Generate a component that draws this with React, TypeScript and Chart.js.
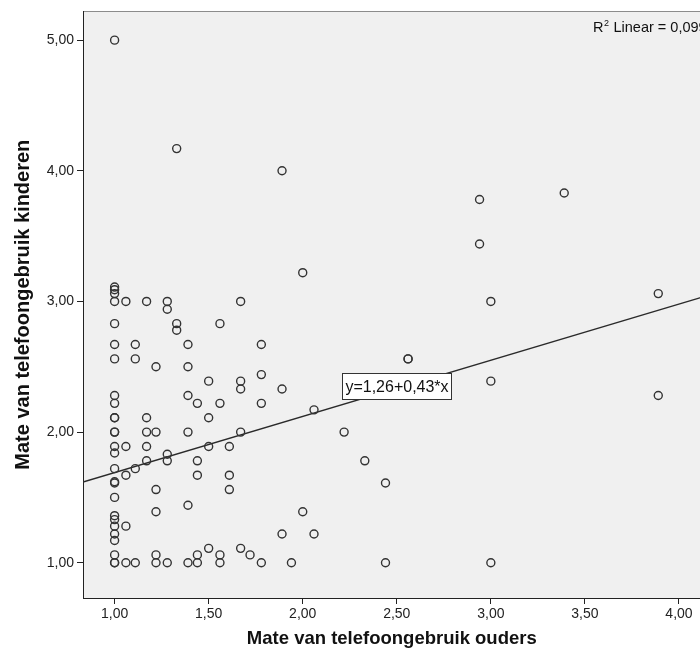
import React, { useEffect, useRef } from 'react';
import { Chart, registerables } from 'chart.js';

Chart.register(...registerables);

// Mate van telefoongebruik ouders (x) — parallel with kinderen (y)
const ouders = [
  1, 1, 1, 1, 1, 1, 1, 1, 1, 1, 1, 1, 1, 1,
  1, 1, 1, 1, 1, 1, 1, 1, 1, 1, 1, 1, 1, 1,
  1.06, 1.06, 1.06, 1.06, 1.06,
  1.11, 1.11, 1.11, 1.11,
  1.17, 1.17, 1.17, 1.17, 1.17,
  1.22, 1.22, 1.22, 1.22, 1.22, 1.22,
  1.28, 1.28, 1.28, 1.28, 1.28,
  1.33, 1.33, 1.33,
  1.39, 1.39, 1.39, 1.39, 1.39, 1.39,
  1.44, 1.44, 1.44, 1.44, 1.44,
  1.5, 1.5, 1.5, 1.5,
  1.56, 1.56, 1.56, 1.56,
  1.61, 1.61, 1.61,
  1.67, 1.67, 1.67, 1.67, 1.67,
  1.72,
  1.78, 1.78, 1.78, 1.78,
  1.89, 1.89, 1.89,
  1.94,
  2.0, 2.0,
  2.06, 2.06,
  2.22,
  2.33,
  2.44, 2.44,
  2.56, 2.56,
  2.94, 2.94,
  3.0, 3.0, 3.0,
  3.39,
  3.89, 3.89,
];

// Mate van telefoongebruik kinderen (y)
const kinderen = [
  5.0, 3.11, 3.09, 3.06, 3.0, 2.83, 2.67, 2.56, 2.28, 2.22, 2.11, 2.11, 2.0, 2.0,
  1.89, 1.84, 1.72, 1.62, 1.61, 1.5, 1.36, 1.33, 1.28, 1.22, 1.17, 1.06, 1.0, 1.0,
  3.0, 1.89, 1.67, 1.28, 1.0,
  2.67, 2.56, 1.72, 1.0,
  3.0, 2.11, 2.0, 1.89, 1.78,
  2.5, 2.0, 1.56, 1.39, 1.06, 1.0,
  3.0, 2.94, 1.83, 1.78, 1.0,
  4.17, 2.83, 2.78,
  2.67, 2.5, 2.28, 2.0, 1.44, 1.0,
  2.22, 1.78, 1.67, 1.06, 1.0,
  2.39, 2.11, 1.89, 1.11,
  2.83, 2.22, 1.06, 1.0,
  1.89, 1.67, 1.56,
  3.0, 2.39, 2.33, 2.0, 1.11,
  1.06,
  2.67, 2.44, 2.22, 1.0,
  4.0, 2.33, 1.22,
  1.0,
  3.22, 1.39,
  2.17, 1.22,
  2.0,
  1.78,
  1.61, 1.0,
  2.56, 2.56,
  3.78, 3.44,
  3.0, 2.39, 1.0,
  3.83,
  3.06, 2.28,
];

const xTicks = [1, 1.5, 2, 2.5, 3, 3.5, 4];
const yTicks = [1, 2, 3, 4, 5];
const xRange = [0.832, 4.115];
const yRange = [0.73, 5.22];
const intercept = 1.26;
const slope = 0.43;
const r2Value = 0.099;
const labelAtX = 2.5;

const xTitle = 'Mate van telefoongebruik ouders';
const yTitle = 'Mate van telefoongebruik kinderen';

const FONT = '"Liberation Sans", Arial, Helvetica, sans-serif';
const fmt = (v: number) => v.toFixed(2).replace('.', ',');

const decorPlugin = {
  id: 'decor',
  beforeDraw(chart: any) {
    const { ctx, chartArea: a } = chart;
    ctx.save();
    ctx.fillStyle = '#f0f0f0';
    ctx.fillRect(a.left, a.top, a.right - a.left + 10, a.bottom - a.top);
    ctx.strokeStyle = '#8c8c8c';
    ctx.lineWidth = 1;
    ctx.beginPath();
    ctx.moveTo(a.left, Math.round(a.top) + 0.5);
    ctx.lineTo(a.right + 10, Math.round(a.top) + 0.5);
    ctx.stroke();
    ctx.restore();
  },
  afterDatasetsDraw(chart: any) {
    const { ctx, chartArea: a } = chart;
    const xs = chart.scales.x;
    const ys = chart.scales.y;
    ctx.save();
    // equation label
    const text = `y=${fmt(intercept)}+${fmt(slope)}*x`;
    ctx.font = `16px ${FONT}`;
    const tw = ctx.measureText(text).width;
    const cx = xs.getPixelForValue(labelAtX);
    const cy = ys.getPixelForValue(intercept + slope * labelAtX) - 2;
    const w = Math.round(tw + 6);
    const h = 26;
    const bx = Math.round(cx - w / 2) + 0.5;
    const by = Math.round(cy - h / 2) + 0.5;
    ctx.fillStyle = '#ffffff';
    ctx.fillRect(bx, by, w, h);
    ctx.strokeStyle = '#333333';
    ctx.lineWidth = 1;
    ctx.strokeRect(bx, by, w, h);
    ctx.fillStyle = '#111111';
    ctx.textAlign = 'center';
    ctx.textBaseline = 'middle';
    ctx.fillText(text, bx + w / 2, by + h / 2 + 1);

    // R² Linear label
    ctx.textAlign = 'left';
    ctx.textBaseline = 'alphabetic';
    const rx = a.left + 510;
    const ry = a.top + 21;
    ctx.font = `14.5px ${FONT}`;
    ctx.fillText('R', rx, ry);
    const rw = ctx.measureText('R').width;
    ctx.font = `9px ${FONT}`;
    ctx.fillText('2', rx + rw + 0.5, ry - 6);
    const sw = ctx.measureText('2').width;
    ctx.font = `14.5px ${FONT}`;
    ctx.fillText(` Linear = ${r2Value.toFixed(3).replace('.', ',')}`, rx + rw + sw + 1, ry);
    ctx.restore();
  },
};

export default function App() {
  const ref = useRef<HTMLCanvasElement | null>(null);

  useEffect(() => {
    if (!ref.current) return;
    const points = ouders.map((x, i) => ({ x, y: kinderen[i] }));
    const line = [
      { x: xRange[0], y: intercept + slope * xRange[0] },
      { x: xRange[1], y: intercept + slope * xRange[1] },
    ];
    const tickFont = { family: FONT, size: 14 };
    const chart = new Chart(ref.current, {
      type: 'scatter',
      data: {
        datasets: [
          {
            type: 'line' as any,
            data: line,
            borderColor: '#2a2a2a',
            borderWidth: 1.3,
            pointRadius: 0,
            fill: false,
            order: 2,
          } as any,
          {
            data: points,
            pointStyle: 'circle',
            pointRadius: 4,
            pointHoverRadius: 4,
            borderWidth: 1.4,
            borderColor: '#333333',
            backgroundColor: 'rgba(0,0,0,0)',
            order: 1,
          },
        ],
      },
      plugins: [decorPlugin],
      options: {
        animation: false,
        responsive: false,
        maintainAspectRatio: false,
        events: [],
        layout: { padding: { top: 11, right: 0, bottom: 0, left: 0 } },
        plugins: { legend: { display: false }, tooltip: { enabled: false } },
        scales: {
          x: {
            type: 'linear',
            min: xRange[0],
            max: xRange[1],
            afterBuildTicks: (s: any) => {
              s.ticks = xTicks.map((v) => ({ value: v }));
            },
            afterFit: (s: any) => {
              s.height = 54;
            },
            ticks: {
              callback: (v: any) => fmt(Number(v)),
              font: tickFont,
              color: '#222222',
              padding: 2,
              maxRotation: 0,
              autoSkip: false,
            },
            grid: { drawOnChartArea: false, drawTicks: true, tickLength: 6, color: '#222222' },
            border: { display: true, color: '#222222', width: 1 },
            title: {
              display: true,
              text: xTitle,
              font: { family: FONT, size: 18.5, weight: 'bold' },
              color: '#111111',
              padding: { top: 0, bottom: 2 },
            },
          },
          y: {
            type: 'linear',
            min: yRange[0],
            max: yRange[1],
            afterBuildTicks: (s: any) => {
              s.ticks = yTicks.map((v) => ({ value: v }));
            },
            afterFit: (s: any) => {
              s.width = 83;
            },
            ticks: {
              callback: (v: any) => fmt(Number(v)),
              font: tickFont,
              color: '#222222',
              padding: 3,
              autoSkip: false,
            },
            grid: { drawOnChartArea: false, drawTicks: true, tickLength: 6, color: '#222222' },
            border: { display: true, color: '#222222', width: 1 },
            title: {
              display: true,
              text: yTitle,
              font: { family: FONT, size: 20, weight: 'bold' },
              color: '#111111',
              padding: { top: 11, bottom: 0 },
            },
          },
        },
      },
    });
    return () => chart.destroy();
  }, []);

  return (
    <div
      style={{
        position: 'absolute',
        left: 0,
        top: 0,
        width: 700,
        height: 652,
        overflow: 'hidden',
        background: '#ffffff',
      }}
    >
      <canvas ref={ref} width={706} height={652} style={{ display: 'block' }} />
    </div>
  );
}
